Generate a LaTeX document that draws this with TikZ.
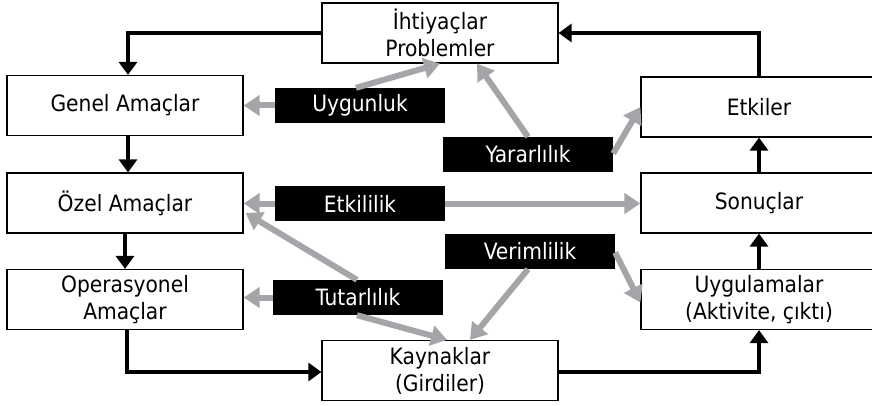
\documentclass[tikz,border=0pt]{standalone}
\usepackage{fontspec}
\setmainfont{DejaVu Sans Condensed}
\usetikzlibrary{arrows.meta}
\definecolor{garr}{HTML}{A4A5A8}
\tikzset{
  box/.style={draw=black, line width=1.2pt, fill=white, align=center, inner sep=0pt,
    font=\fontsize{22.5}{27}\selectfont, minimum width=236pt, minimum height=60pt},
  tag/.style={fill=black, text=white, inner sep=0pt, font=\fontsize{22.5}{27}\selectfont,
    minimum width=170pt, minimum height=35pt},
  barrow/.style={draw=black, line width=4pt, -{Triangle[length=13pt,width=18pt]}},
  garrow/.style={draw=garr, line width=6pt, -{Triangle[length=16pt,width=20pt]}}
}
\begin{document}
\begin{tikzpicture}[x=1pt,y=-1pt]
\useasboundingbox (0,0) rectangle (872,406);
\clip (0,0) rectangle (872,406);
\node[box] (ihtiyac) at (440,33) {İhtiyaçlar\\Problemler};
\node[box] (genel) at (125,105.5) {Genel Amaçlar};
\node[box] (ozel) at (125,203) {Özel Amaçlar};
\node[box] (oper) at (125,299.5) {Operasyonel\\Amaçlar};
\node[box] (kaynak) at (440,370.5) {Kaynaklar\\(Girdiler)};
\node[box] (etkiler) at (759,107) {Etkiler};
\node[box] (sonuc) at (759,203) {Sonuçlar};
\node[box] (uyg) at (759,299.5) {Uygulamalar\\(Aktivite, çıktı)};

\node[tag] (uygun) at (360,105.5) {Uygunluk};
\node[tag] (yarar) at (528,154.5) {Yararlılık};
\node[tag] (etkili) at (360,203.5) {Etkililik};
\node[tag] (verim) at (530,251.5) {Verimlilik};
\node[tag] (tutar) at (358,297.5) {Tutarlılık};

% black flow
\draw[barrow] (ihtiyac.west) -| ([xshift=3pt]genel.north);
\draw[barrow] ([xshift=3pt]genel.south) -- ([xshift=3pt]ozel.north);
\draw[barrow] (ozel.south) -- (oper.north);
\draw[barrow] ([xshift=2pt]oper.south) |- ([yshift=-1.5pt]kaynak.west);
\draw[barrow] ([yshift=-1.5pt]kaynak.east) -| (uyg.south);
\draw[barrow] (uyg.north) -- (sonuc.south);
\draw[barrow] (sonuc.north) -- (etkiler.south);
\draw[barrow] (etkiler.north) |- (ihtiyac.east);

% gray relations
\draw[garrow] (uygun.west) -- (genel.east);
\draw[garrow] ([xshift=-4pt]uygun.north) -- (ihtiyac.south);
\draw[garrow] (yarar.north) -- ([xshift=37pt]ihtiyac.south);
\draw[garrow] ([yshift=1pt]yarar.east) -- (etkiler.west);
\draw[garrow] (etkili.west) -- ([yshift=-0.5pt]ozel.east);
\draw[garrow] (etkili.east) -- (etkili.east -| sonuc.west);
\draw[garrow] (tutar.west) -- (tutar.west -| oper.east);
\draw[garrow] ([xshift=-1pt]tutar.north) -- ([xshift=2pt,yshift=-10pt]ozel.east);
\draw[garrow] ([xshift=-1pt]tutar.south) -- ([xshift=7pt]kaynak.north);
\draw[garrow] ([xshift=-2pt]verim.south) -- ([xshift=30pt]kaynak.north);
\draw[garrow] ([yshift=-1pt]verim.east) -- ([yshift=-3pt]uyg.west);
\end{tikzpicture}
\end{document}
